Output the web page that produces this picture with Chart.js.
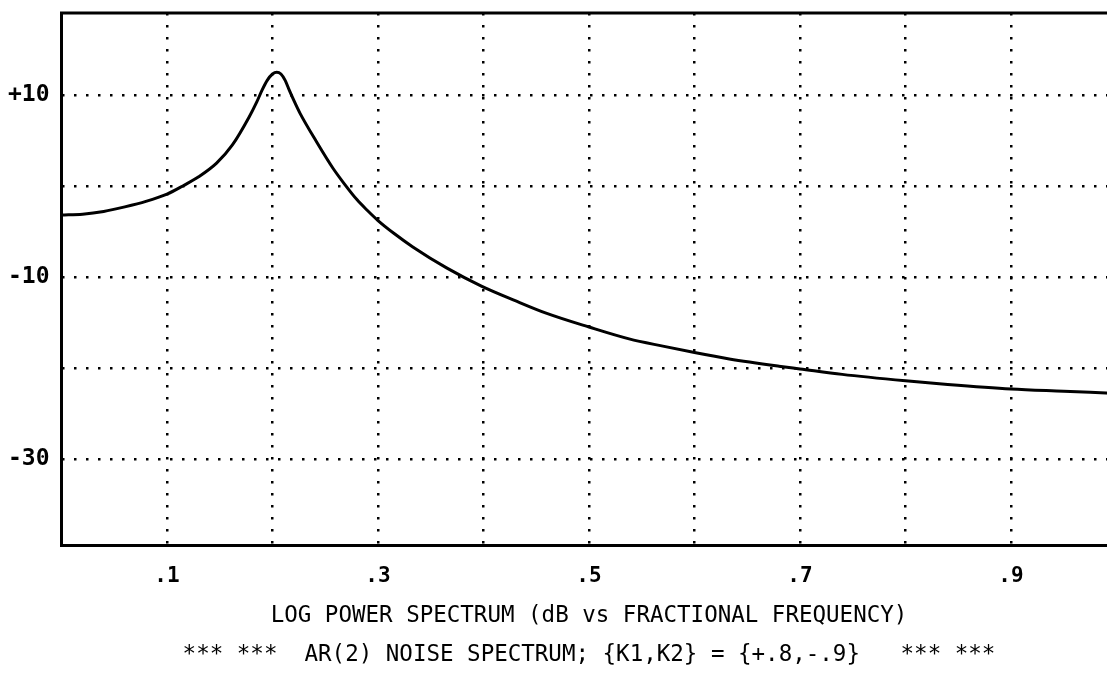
<!DOCTYPE html>
<html>
<head>
<meta charset="utf-8">
<script src="https://cdn.jsdelivr.net/npm/chart.js@4.4.0/dist/chart.umd.min.js"></script>
<style>
  html, body { margin: 0; padding: 0; background: #fff; overflow: hidden; }
  #wrap { width: 1107px; height: 675px; overflow: hidden; position: relative; }
  #spectrumChart { display: block; }
</style>
</head>
<body>
<div id="wrap"><canvas id="spectrumChart" width="1125" height="675"></canvas></div>
<script>
// fractional frequency and log power (dB)
var freq = [0, 0.02, 0.04, 0.06, 0.08, 0.10, 0.115, 0.13, 0.147, 0.162, 0.178, 0.185, 0.19, 0.195,
            0.20, 0.204, 0.208, 0.212, 0.216, 0.221, 0.226, 0.242, 0.257, 0.267, 0.28, 0.29, 0.30,
            0.315, 0.333, 0.365, 0.398, 0.43, 0.46, 0.50, 0.538, 0.57, 0.60, 0.633, 0.68, 0.70,
            0.74, 0.80, 0.84, 0.90, 0.95, 1.0];
var powerDb = [-3.2, -3.1, -2.8, -2.3, -1.7, -0.9, 0.0, 1.0, 2.5, 4.5, 7.6, 9.2, 10.5, 11.6,
               12.3, 12.5, 12.3, 11.6, 10.5, 9.2, 8.0, 4.8, 2.0, 0.4, -1.5, -2.7, -3.8,
               -5.2, -6.7, -9.0, -11.0, -12.6, -14.0, -15.5, -16.8, -17.6, -18.3, -19.0, -19.8, -20.1,
               -20.7, -21.4, -21.8, -22.3, -22.55, -22.8];

var xTickLabels = ['.1', '.3', '.5', '.7', '.9'];
var yTickLabels = ['+10', '-10', '-30'];
var axisTitle = 'LOG POWER SPECTRUM (dB vs FRACTIONAL FREQUENCY)';
var captionLine = '*** ***  AR(2) NOISE SPECTRUM; {K1,K2} = {+.8,-.9}   *** ***';

var mono = "'DejaVu Sans Mono', 'Liberation Mono', monospace";

var points = freq.map(function(f, i) {
    return { x: f, y: powerDb[i] };
});

// solid frame round the plot area
var framePlugin = {
    id: 'frame',
    afterDraw: function(chart) {
        var a = chart.chartArea;
        var ctx = chart.ctx;
        ctx.save();
        ctx.strokeStyle = '#000';
        ctx.lineWidth = 3;
        ctx.strokeRect(a.left, a.top, a.right - a.left, a.bottom - a.top);
        ctx.restore();
    }
};

var whiteBg = {
    id: 'whiteBg',
    beforeDraw: function(chart) {
        var ctx = chart.ctx;
        ctx.save();
        ctx.fillStyle = '#fff';
        ctx.fillRect(0, 0, chart.width, chart.height);
        ctx.restore();
    }
};

function noScalePadding(scale) {
    scale.paddingTop = 0;
    scale.paddingBottom = 0;
    scale.paddingLeft = 0;
    scale.paddingRight = 0;
}

var ctx = document.getElementById('spectrumChart').getContext('2d');
var spectrumChart = new Chart(ctx, {
    type: 'line',
    data: {
        datasets: [{
            data: points,
            borderColor: '#000',
            borderWidth: 3,
            pointRadius: 0,
            cubicInterpolationMode: 'monotone',
            fill: false
        }]
    },
    options: {
        responsive: false,
        animation: false,
        layout: {
            padding: { left: 0, right: 8.5, top: 13, bottom: 0 }
        },
        plugins: {
            legend: { display: false },
            tooltip: { enabled: false }
        },
        scales: {
            x: {
                type: 'linear',
                min: 0,
                max: 1,
                afterFit: function(scale) {
                    scale.height = 129.5;
                    noScalePadding(scale);
                },
                grid: { color: '#000', lineWidth: 2.5, drawTicks: false },
                border: { display: false, dash: [2.5, 9.5] },
                ticks: {
                    stepSize: 0.1,
                    includeBounds: false,
                    maxRotation: 0,
                    autoSkip: false,
                    padding: 18,
                    color: '#000',
                    font: { family: mono, size: 21, weight: 'bold' },
                    callback: function(v) {
                        var k = Math.round(v * 10);
                        return k % 2 === 1 ? xTickLabels[(k - 1) / 2] : '';
                    }
                },
                title: {
                    display: true,
                    text: [axisTitle, captionLine],
                    color: '#000',
                    padding: { top: 0, bottom: 0 },
                    font: { family: mono, size: 22.5, lineHeight: '39px' }
                }
            },
            y: {
                type: 'linear',
                min: -39.5,
                max: 19,
                afterFit: function(scale) {
                    scale.width = 61.5;
                    noScalePadding(scale);
                },
                grid: { color: '#000', lineWidth: 2.5, drawTicks: false },
                border: { display: false, dash: [2.5, 9.5] },
                ticks: {
                    stepSize: 10,
                    includeBounds: false,
                    padding: 12,
                    color: '#000',
                    font: { family: mono, size: 23, weight: 'bold' },
                    callback: function(v) {
                        var k = Math.round(v);
                        if (k === 10) return yTickLabels[0];
                        if (k === -10) return yTickLabels[1];
                        if (k === -30) return yTickLabels[2];
                        return '';
                    }
                }
            }
        }
    },
    plugins: [whiteBg, framePlugin]
});
</script>
</body>
</html>
